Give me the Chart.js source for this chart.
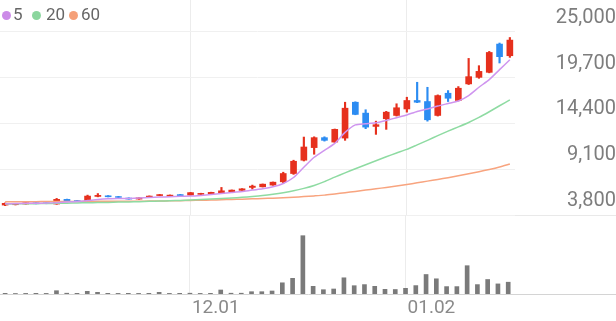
<!DOCTYPE html>
<html>
<head>
<meta charset="utf-8">
<script src="https://cdn.jsdelivr.net/npm/chart.js@4.4.1/dist/chart.umd.min.js"></script>
<style>
  html, body { margin: 0; padding: 0; background: #fff; }
  body { width: 616px; height: 321px; position: relative; overflow: hidden; font-family: Roboto, sans-serif; }
  #priceBox { position: absolute; left: 0; top: 0; width: 616px; height: 216px; }
  #volBox { position: absolute; left: 0; top: 215px; width: 616px; height: 106px; }
  #sep { position: absolute; left: 0; top: 215px; width: 616px; height: 1px; background: #e9e9e9; }
  .lg { position: absolute; top: 4px; font-size: 17px; line-height: 20px; color: #666; }
  .dot { position: absolute; top: 11px; width: 9px; height: 9px; border-radius: 50%; }
</style>
</head>
<body>
<div id="sep"></div>
<div id="priceBox"><canvas id="priceChart"></canvas></div>
<div id="volBox"><canvas id="volChart"></canvas></div>

<span class="dot" style="left:2px;background:#cc8be8"></span><span class="lg" style="left:13px">5</span>
<span class="dot" style="left:32px;background:#8bd69e"></span><span class="lg" style="left:46px">20</span>
<span class="dot" style="left:69px;background:#f5a079"></span><span class="lg" style="left:81px">60</span>

<script>
// daily candles (oldest -> newest)
const opens  = [4950,4990,5070,5220,5210,5070,5610,5470,5330,5950,6020,5930,5760,5640,5840,6050,5990,6160,6100,6190,
                6250,6300,6480,6650,6990,7060,7260,7640,8600,10140,11600,12750,12240,12700,16850,15590,14050,14940,15320,16070,
                17050,16930,15320,17890,17050,18970,19730,20310,23580,22230];
const highs  = [5200,5100,5240,5240,5230,5720,5640,5490,6100,6280,6050,5960,5790,5810,6010,6180,6120,6180,6410,6320,
                6440,6990,6700,6850,7260,7390,7620,8750,10140,12820,12850,12850,13750,16850,16900,15980,14660,15800,16670,17430,
                19160,18580,17700,18200,18660,21920,21080,22730,23700,24340];
const lows   = [4880,4960,5050,5090,5100,5040,5430,5360,5300,5900,5890,5820,5620,5620,5820,6030,5970,6000,6080,6170,
                6230,6280,6460,6630,6800,7040,7240,7490,8500,10050,10830,12350,12200,12440,15400,13790,13130,13710,15250,15700,
                16800,14660,15250,16930,17000,18900,19620,20250,21390,22040];
const closes = [5150,5070,5220,5100,5110,5610,5450,5380,5990,6070,5910,5840,5640,5790,5990,6160,6100,6020,6390,6300,
                6420,6600,6680,6830,7140,7370,7600,8600,10020,11670,12750,12440,13710,16160,15440,13970,14250,15700,16210,17050,
                16850,14820,17620,17310,18470,19810,20420,22610,22120,24040];

// moving averages
const ma5  = [5100,5130,5150,5160,5180,5230,5300,5360,5470,5590,5670,5700,5720,5770,5830,5870,5920,5970,6000,6070,
              6160,6280,6390,6510,6680,6830,7060,7450,8140,9330,10480,11290,12090,13360,14230,14360,14480,14740,15060,15380,
              15780,16070,16410,16700,16990,17620,18580,19470,20620,21770];
const ma20 = [5080,5090,5100,5110,5130,5150,5170,5190,5220,5240,5260,5290,5310,5340,5380,5410,5450,5490,5540,5590,
              5640,5700,5770,5850,5940,6050,6200,6380,6600,6880,7220,7660,8180,8670,9160,9620,10080,10540,10980,11400,
              11920,12440,12980,13510,14000,14510,15090,15750,16440,17130];
const ma60 = [5340,5340,5340,5340,5360,5360,5360,5370,5370,5380,5380,5390,5390,5400,5410,5420,5440,5460,5480,5510,
              5530,5560,5600,5630,5670,5700,5750,5800,5860,5930,6010,6100,6240,6380,6530,6680,6830,6990,7150,7340,
              7520,7720,7910,8120,8340,8570,8810,9070,9360,9700];

// volume (thousand shares)
const volumes = [70,50,60,70,60,330,80,70,270,170,70,60,70,60,70,170,60,70,80,60,
                 70,400,80,80,230,230,300,1120,1570,5830,770,430,500,1620,830,940,770,470,450,570,
                 840,1950,1520,740,740,2830,940,1450,1010,1180];

const yTicks = [3800, 9100, 14400, 19700, 25000];
const xTickIdx = [18, 39];
const xTickText = ['12.01', '01.02'];

const RED = '#e6301d';
const BLUE = '#2c8cf2';
const labels = closes.map((_, i) => i);
const volLabels = Array.from({ length: 60 }, (_, i) => i);
const candleColor = closes.map((c, i) => c >= opens[i] ? RED : BLUE);
const gridX = ctx => xTickIdx.includes(ctx.index) ? '#ececec' : 'rgba(0,0,0,0)';

new Chart(document.getElementById('priceChart'), {
    type: 'bar',
    data: {
        labels: labels,
        datasets: [
            { type: 'line', label: '5', data: ma5, borderColor: '#cf95ef', borderWidth: 1.5, pointRadius: 0, tension: 0.2, order: 0 },
            { type: 'line', label: '20', data: ma20, borderColor: '#8edba2', borderWidth: 1.5, pointRadius: 0, tension: 0.2, order: 1 },
            { type: 'line', label: '60', data: ma60, borderColor: '#f8a47f', borderWidth: 1.5, pointRadius: 0, tension: 0.2, order: 2 },
            {
                label: 'body',
                data: opens.map((o, i) => [o, closes[i]]),
                backgroundColor: candleColor,
                barThickness: 6,
                grouped: false,
                order: 3
            },
            {
                label: 'wick',
                data: lows.map((l, i) => [l, highs[i]]),
                backgroundColor: candleColor,
                barThickness: 1.5,
                grouped: false,
                order: 4
            }
        ]
    },
    options: {
        responsive: true,
        maintainAspectRatio: false,
        animation: false,
        layout: { padding: 0 },
        plugins: {
            legend: { display: false },
            tooltip: { enabled: false }
        },
        scales: {
            x: {
                offset: true,
                grid: { offset: false, drawTicks: false, color: gridX },
                border: { display: false },
                ticks: { display: false },
                afterFit: s => { s.height = 1; s.paddingLeft = 0; s.paddingRight = 0; }
            },
            y: {
                position: 'right',
                min: 3800,
                max: 28680,
                afterBuildTicks: s => { s.ticks = yTicks.map(v => ({ value: v })); },
                grid: { drawTicks: false, color: '#f0f0f0' },
                border: { display: false },
                ticks: {
                    crossAlign: 'far',
                    padding: 32,
                    labelOffset: -14,
                    color: '#7d7d7d',
                    font: { family: 'Roboto', size: 20 },
                    callback: v => v.toLocaleString('en-US')
                },
                // keep the label gap from padding the plot vertically
                afterFit: s => { s.width = 101; s.paddingTop = 0; s.paddingBottom = 0; }
            }
        }
    }
});

new Chart(document.getElementById('volChart'), {
    type: 'bar',
    data: {
        labels: volLabels,
        datasets: [{
            data: volumes,
            backgroundColor: '#7a7a7a',
            barThickness: 4
        }]
    },
    options: {
        responsive: true,
        maintainAspectRatio: false,
        animation: false,
        layout: { padding: 0 },
        plugins: {
            legend: { display: false },
            tooltip: { enabled: false }
        },
        scales: {
            x: {
                offset: true,
                grid: { offset: false, drawTicks: false, color: gridX },
                border: { display: true, color: '#d4d4d4' },
                ticks: {
                    autoSkip: false,
                    maxRotation: 0,
                    align: 'start',
                    labelOffset: 2,
                    padding: 3,
                    color: '#8a8a8a',
                    font: { family: 'Roboto', size: 19 },
                    callback: (v, i) => {
                        const k = xTickIdx.indexOf(i);
                        return k >= 0 ? xTickText[k] : '';
                    }
                },
                afterFit: s => { s.height = 27; }
            },
            y: {
                display: false,
                min: 0,
                max: 7900
            }
        }
    }
});
</script>
</body>
</html>
